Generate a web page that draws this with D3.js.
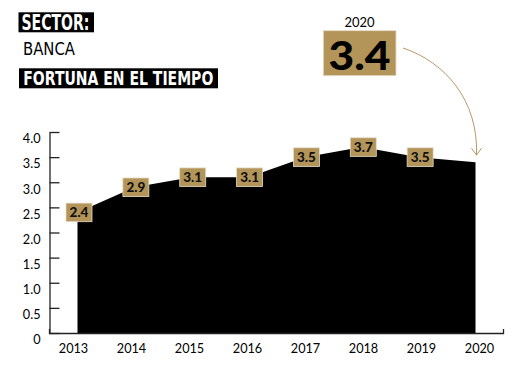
<!DOCTYPE html>
<html>
<head>
<meta charset="utf-8">
<script src="https://cdn.jsdelivr.net/npm/d3@7"></script>
<style>
  body { margin: 0; background: #fff; }
  svg { display: block; }
</style>
</head>
<body>
<svg id="chart" width="526" height="368"></svg>
<script>
// datos: fortuna del sector banca por año
var years = ['2013', '2014', '2015', '2016', '2017', '2018', '2019', '2020'];
var fortuna = [2.4, 2.9, 3.1, 3.1, 3.5, 3.7, 3.5, 3.4];
var yTicks = [0, 0.5, 1.0, 1.5, 2.0, 2.5, 3.0, 3.5, 4.0];
var ultimoAnio = '2020';
var ultimoValor = 3.4;

var gold = '#b39459';
var condensed = '"Liberation Sans Narrow", "DejaVu Sans Condensed", sans-serif';
var svg = d3.select('#chart');

// escalas
var x = d3.scalePoint().domain(years).range([77.5, 475.5]);
var xLabels = d3.scalePoint().domain(years).range([49, 503]).padding(0.414);
var y = d3.scaleLinear().domain([0, 4]).range([333, 132]);

// area negra
var area = d3.area()
  .x(function(d, i) { return x(years[i]); })
  .y0(y(0))
  .y1(function(d) { return y(d); });

svg.append('path')
  .datum(fortuna)
  .attr('d', area)
  .attr('fill', '#000');

// eje y (ticks hacia dentro)
var yAxis = svg.append('g')
  .attr('transform', 'translate(49.5,0)')
  .call(d3.axisLeft(y)
    .tickValues(yTicks)
    .tickSizeInner(-10)
    .tickSizeOuter(0)
    .tickPadding(9)
    .tickFormat(function(d) { return d === 0 ? '0' : d3.format('.1f')(d); }));
yAxis.select('.domain').attr('stroke', '#222').attr('stroke-width', 1.3);
yAxis.selectAll('.tick line').attr('stroke', '#222').attr('stroke-width', 1.3);
yAxis.selectAll('.tick text')
  .attr('dy', '10.8px')
  .attr('fill', '#000')
  .style('font-family', 'Lato, "Open Sans", sans-serif')
  .style('font-size', '12.7px');

// eje x
var xAxis = svg.append('g')
  .attr('transform', 'translate(0,333)')
  .call(d3.axisBottom(xLabels)
    .tickSizeInner(0)
    .tickSizeOuter(-4)
    .tickPadding(11.3));
xAxis.select('.domain').attr('stroke', '#222').attr('stroke-width', 1.3);
xAxis.selectAll('.tick text')
  .attr('fill', '#000')
  .style('font-family', 'Lato, "Open Sans", sans-serif')
  .style('font-size', '12.7px');

// etiquetas doradas sobre cada punto (menos el último)
var etiquetas = svg.append('g').selectAll('g')
  .data(fortuna.slice(0, -1))
  .join('g')
  .attr('transform', function(d, i) {
    return 'translate(' + (x(years[i]) + 1.5) + ',' + y(d) + ')';
  });

etiquetas.append('rect')
  .attr('x', -13)
  .attr('y', -9.3)
  .attr('width', 26)
  .attr('height', 18.6)
  .attr('fill', gold)
  .attr('stroke', '#e6dcc6')
  .attr('stroke-width', 0.8);

etiquetas.append('text')
  .attr('text-anchor', 'middle')
  .attr('dy', '4.8px')
  .style('font-family', 'Lato, "DejaVu Sans", sans-serif')
  .style('font-weight', 900)
  .style('font-size', '13.5px')
  .attr('fill', '#111')
  .text(function(d) { return d3.format('.1f')(d); });

// titulos
svg.append('rect').attr('x', 18.5).attr('y', 12.3).attr('width', 75.5).attr('height', 20).attr('fill', '#000');
svg.append('text')
  .attr('x', 21.5).attr('y', 30)
  .attr('textLength', 68).attr('lengthAdjust', 'spacingAndGlyphs')
  .style('font-family', condensed).style('font-weight', 'bold').style('font-size', '20.5px')
  .attr('fill', '#fff')
  .text('SECTOR:');

svg.append('text')
  .attr('x', 23).attr('y', 55)
  .attr('textLength', 52).attr('lengthAdjust', 'spacingAndGlyphs')
  .style('font-family', condensed).style('font-size', '18px')
  .attr('fill', '#000')
  .text('BANCA');

svg.append('rect').attr('x', 19).attr('y', 68.3).attr('width', 199).attr('height', 20).attr('fill', '#000');
svg.append('text')
  .attr('x', 23.3).attr('y', 85)
  .attr('textLength', 190).attr('lengthAdjust', 'spacingAndGlyphs')
  .style('font-family', condensed).style('font-weight', 'bold').style('font-size', '20px')
  .attr('fill', '#fff')
  .text('FORTUNA EN EL TIEMPO');

// valor destacado 2020
svg.append('text')
  .attr('x', 359.5).attr('y', 27)
  .attr('text-anchor', 'middle')
  .style('font-family', 'Lato, "Open Sans", sans-serif').style('font-size', '13px')
  .attr('fill', '#000')
  .text(ultimoAnio);

svg.append('rect')
  .attr('x', 323.3).attr('y', 30.7).attr('width', 72.7).attr('height', 45)
  .attr('fill', gold)
  .attr('stroke', '#e6dcc6').attr('stroke-width', 0.8);
svg.append('text')
  .attr('x', 359.5).attr('y', 70)
  .attr('text-anchor', 'middle')
  .attr('textLength', 62).attr('lengthAdjust', 'spacingAndGlyphs')
  .style('font-family', 'Lato, "DejaVu Sans", sans-serif').style('font-weight', 900).style('font-size', '39px')
  .attr('fill', '#000')
  .text(d3.format('.1f')(ultimoValor));

// flecha curva hacia el último punto
var tipX = x(ultimoAnio) + 1;
var tipY = y(ultimoValor) - 7;
var p = d3.path();
p.moveTo(403, 48);
p.bezierCurveTo(445, 62, tipX + 2, 100, tipX, tipY);
svg.append('path')
  .attr('d', p.toString())
  .attr('fill', 'none')
  .attr('stroke', '#b8996a')
  .attr('stroke-width', 1);
svg.append('path')
  .attr('d', 'M' + (tipX - 5) + ',' + (tipY - 7) + 'L' + tipX + ',' + tipY + 'L' + (tipX + 5) + ',' + (tipY - 7))
  .attr('fill', 'none')
  .attr('stroke', '#b8996a')
  .attr('stroke-width', 1);
</script>
</body>
</html>
